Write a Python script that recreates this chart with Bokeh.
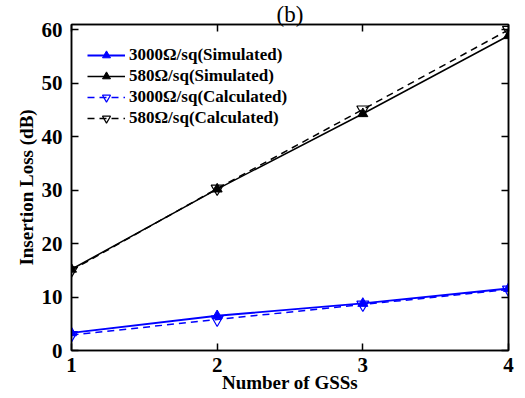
from bokeh.plotting import figure
from bokeh.models import Range1d, LinearAxis, FixedTicker, Legend, LegendItem
from bokeh.embed import file_html
from bokeh.resources import INLINE

gss = [1, 2, 3, 4]
sim_3000 = [3.3, 6.5, 8.8, 11.6]
sim_580 = [15.2, 30.2, 44.3, 58.9]
calc_3000 = [2.9, 5.8, 8.6, 11.4]
calc_580 = [15.0, 30.3, 45.1, 60.0]
x_ticks = [1, 2, 3, 4]
y_ticks = [0, 10, 20, 30, 40, 50, 60]

FONT = "Liberation Serif"

p = figure(width=525, height=398, output_backend="svg", toolbar_location=None,
           x_range=Range1d(1, 4), y_range=Range1d(0, 61),
           min_border_left=71, min_border_right=17, min_border_top=24, min_border_bottom=48,
           title="(b)")
p.title.align = "center"
p.title.text_font = FONT
p.title.text_font_style = "normal"
p.title.text_font_size = "23px"
p.title.text_color = "black"
p.title.offset = 0
p.title.standoff = -5
p.grid.visible = False
p.outline_line_color = "black"
p.outline_line_width = 1.5
p.background_fill_color = "white"
p.border_fill_color = "white"

for ax, ticks in ((p.xaxis[0], x_ticks), (p.yaxis[0], y_ticks)):
    ax.ticker = FixedTicker(ticks=ticks)
    ax.major_tick_in = 7
    ax.major_tick_out = 0
    ax.minor_tick_in = 0
    ax.minor_tick_out = 0
    ax.axis_line_width = 1.5
    ax.axis_line_color = "black"
    ax.major_tick_line_color = "black"
    ax.major_tick_line_width = 1.5
    ax.major_label_text_font = FONT
    ax.major_label_text_font_style = "bold"
    ax.major_label_text_font_size = "21px"
    ax.major_label_text_color = "black"
    ax.axis_label_text_font = FONT
    ax.axis_label_text_font_style = "bold"
    ax.axis_label_text_font_size = "19px"
    ax.axis_label_text_color = "black"

p.xaxis.axis_label = "Number of GSSs"
p.xaxis.major_label_standoff = 7
p.xaxis.axis_label_standoff = -3
p.yaxis.axis_label = "Insertion Loss (dB)"
p.yaxis.major_label_standoff = 9
p.yaxis.axis_label_standoff = 2

def mirror(ticks):
    return LinearAxis(ticker=FixedTicker(ticks=ticks), major_tick_in=7, major_tick_out=0,
                      minor_tick_in=0, minor_tick_out=0, major_label_text_color=None,
                      major_label_text_font_size="1px", major_label_standoff=0,
                      axis_line_width=1.5, axis_line_color="black",
                      major_tick_line_width=1.5, major_tick_line_color="black")

p.add_layout(mirror(y_ticks), "right")
p.add_layout(mirror(x_ticks), "above")

blue = "#0000ff"
l1 = p.line(gss, sim_3000, color=blue, line_width=1.8)
m1 = p.scatter(gss, sim_3000, marker="triangle", size=10, color=blue)
l2 = p.line(gss, sim_580, color="black", line_width=1.5)
m2 = p.scatter(gss, sim_580, marker="triangle", size=10, color="black")
l3 = p.line(gss, calc_3000, color=blue, line_width=1.5, line_dash="7 5")
m3 = p.scatter(gss, calc_3000, marker="inverted_triangle", size=12, line_color=blue,
               fill_color=None, line_width=1.2)
l4 = p.line(gss, calc_580, color="black", line_width=1.5, line_dash="7 5")
m4 = p.scatter(gss, calc_580, marker="inverted_triangle", size=12, line_color="black",
               fill_color=None, line_width=1.2)

legend = Legend(items=[
    LegendItem(label="3000Ω/sq(Simulated)", renderers=[l1, m1]),
    LegendItem(label="580Ω/sq(Simulated)", renderers=[l2, m2]),
    LegendItem(label="3000Ω/sq(Calculated)", renderers=[l3, m3]),
    LegendItem(label="580Ω/sq(Calculated)", renderers=[l4, m4]),
], location=(16, 222))
legend.border_line_color = None
legend.background_fill_alpha = 0
legend.label_text_font = FONT
legend.label_text_font_style = "bold"
legend.label_text_font_size = "17px"
legend.label_text_color = "black"
legend.glyph_width = 38
legend.glyph_height = 20
legend.label_height = 20
legend.label_standoff = 4
legend.spacing = 1
legend.padding = 0
legend.margin = 0
p.add_layout(legend, "center")

open("out.html", "w").write(file_html(p, INLINE))
